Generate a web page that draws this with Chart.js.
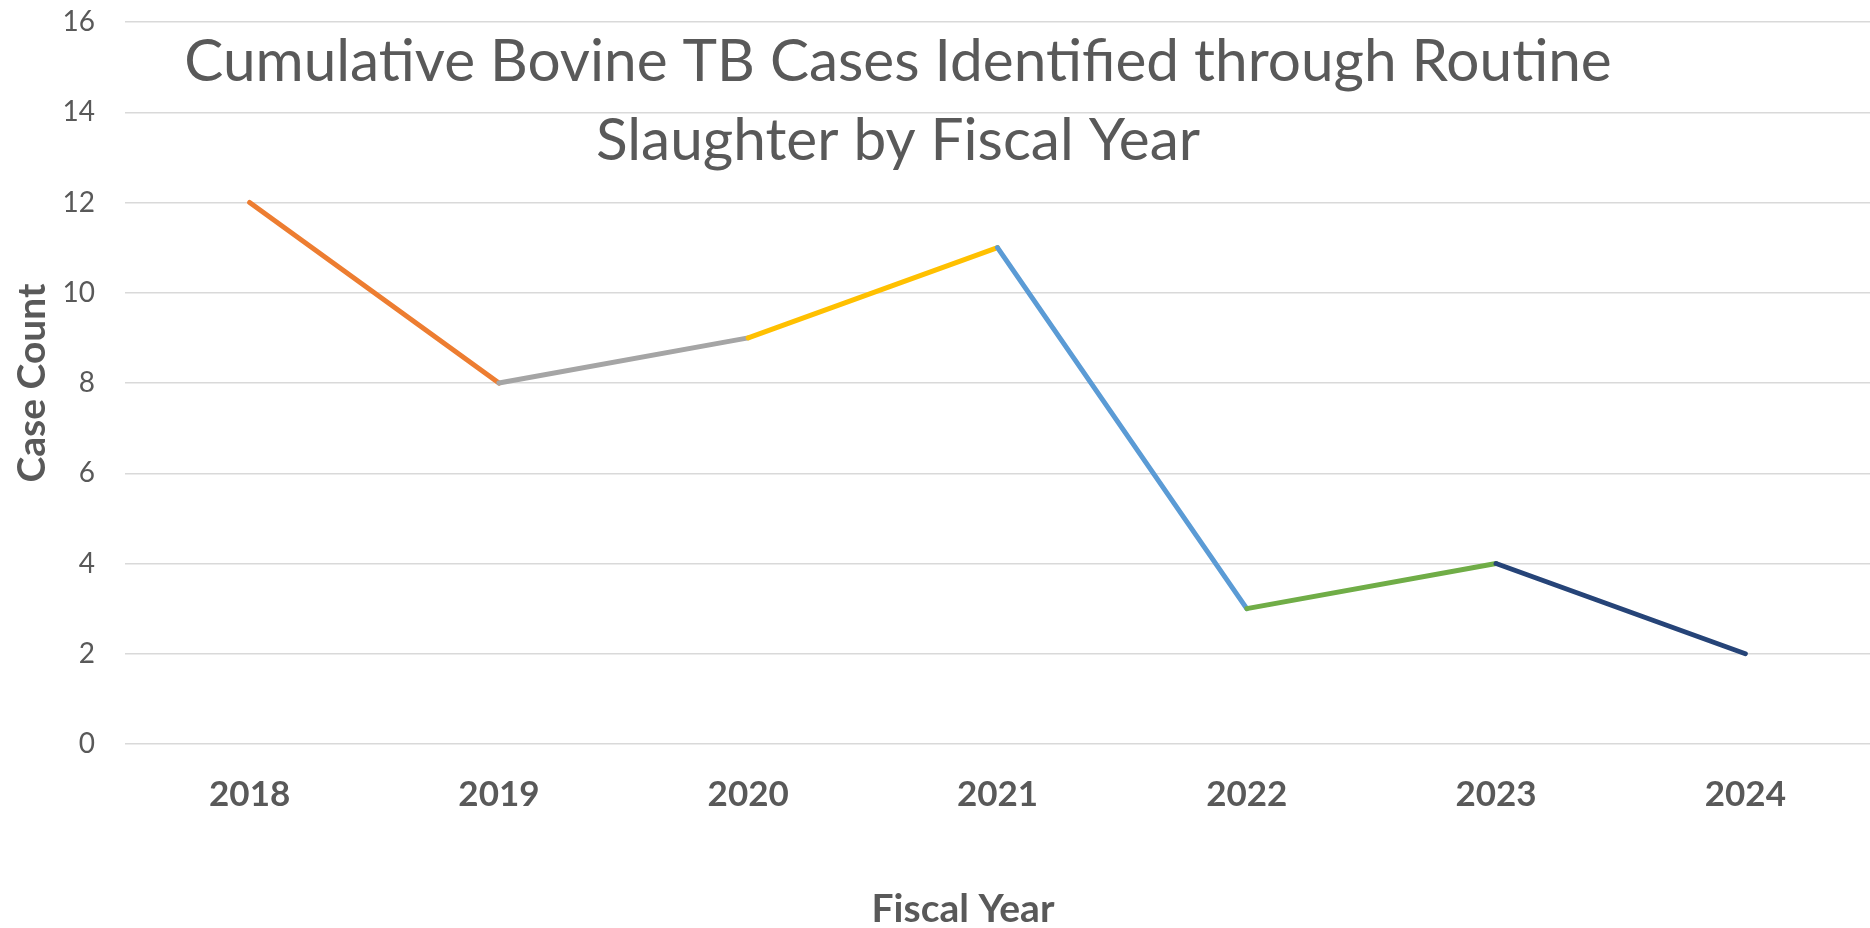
<!DOCTYPE html>
<html lang="en">
<head>
  <meta charset="UTF-8">
  <title>Cumulative Bovine TB Cases</title>
  <script src="https://cdn.jsdelivr.net/npm/chart.js"></script>
  <style>
    html, body { margin: 0; padding: 0; background: #fff; }
    #wrap { width: 1870px; height: 928px; }
  </style>
</head>
<body>
  <div id="wrap"><canvas id="grafico"></canvas></div>
  <script>
    const anos = ["2018", "2019", "2020", "2021", "2022", "2023", "2024"];
    const casos = [12, 8, 9, 11, 3, 4, 2];
    // one colour per segment (2018-19, 2019-20, ...)
    const coresSegmento = ["#ED7D31", "#A5A5A5", "#FFC000", "#5B9BD5", "#70AD47", "#264478"];
    const tituloLinhas = ["Cumulative Bovine TB Cases Identified through Routine", "Slaughter by Fiscal Year"];
    const tituloEixoX = "Fiscal Year";

    const cinza = "#595959";
    const fonte = "Lato, 'Open Sans', sans-serif";

    // chart title overlaps the plot area (Excel overlay) and the x title is off-centre
    const textosExtra = {
      id: "textosExtra",
      afterDraw(chart) {
        const ctx = chart.ctx;
        const area = chart.chartArea;
        ctx.save();
        ctx.fillStyle = cinza;
        ctx.textAlign = "center";
        ctx.textBaseline = "middle";
        ctx.font = "58.5px " + fonte;
        const cx = area.left + (area.right - area.left) * 0.443;
        ctx.fillText(tituloLinhas[0], cx, area.top + 40);
        ctx.fillText(tituloLinhas[1], cx, area.top + 119);
        ctx.font = "bold 39px " + fonte;
        ctx.fillText(tituloEixoX, 963, 909);
        ctx.restore();
      }
    };

    new Chart(document.getElementById("grafico"), {
      type: "line",
      data: {
        labels: anos,
        datasets: [{
          label: "Case Count",
          data: casos,
          borderWidth: 5,
          borderCapStyle: "round",
          borderJoinStyle: "round",
          pointRadius: 0,
          tension: 0,
          segment: {
            borderColor: c => coresSegmento[c.p0DataIndex]
          }
        }]
      },
      options: {
        responsive: true,
        maintainAspectRatio: false,
        animation: false,
        layout: { padding: { top: 22, left: 0, right: 0, bottom: 0 } },
        plugins: {
          legend: { display: false },
          tooltip: { enabled: false }
        },
        scales: {
          x: {
            offset: true,
            grid: { display: false, drawTicks: false },
            border: { display: false },
            ticks: { color: cinza, font: { family: fonte, size: 35, weight: "bold" }, padding: 30 },
            afterFit: s => { s.height = 184; }
          },
          y: {
            min: 0,
            max: 16,
            ticks: { stepSize: 2, color: cinza, font: { family: fonte, size: 28 }, padding: 30 },
            grid: { color: "#D9D9D9", lineWidth: 1.5, drawTicks: false },
            border: { display: false },
            title: { display: true, text: "Case Count", color: cinza, font: { family: fonte, size: 39, weight: "bold" }, padding: { top: 9, bottom: 0 } },
            afterFit: s => { s.width = 125; s.paddingTop = 0; s.paddingBottom = 0; }
          }
        }
      },
      plugins: [textosExtra]
    });
  </script>
</body>
</html>
